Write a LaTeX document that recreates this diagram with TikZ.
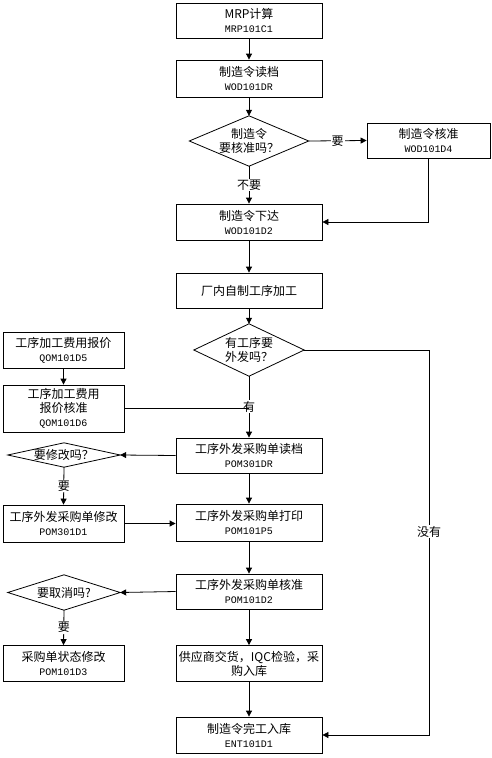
\documentclass[tikz,border=0pt]{standalone}
\usepackage{fontspec}
\setmainfont{Liberation Serif}
\newfontfamily\cjk{Noto Sans CJK SC}
\newfontfamily\codefont{Liberation Mono}
\newcommand\codetxt[1]{{\codefont\fontsize{10}{14}\selectfont #1}}
\usetikzlibrary{arrows.meta}
\begin{document}
\begin{tikzpicture}[x=1pt,y=-1pt,
  lw/.style={line width=0.8pt},
  box/.style={lw, draw, rectangle, inner sep=0pt, minimum width=146pt, minimum height=#1, align=center, font=\cjk\fontsize{12}{14}\selectfont},
  sbox/.style={box=#1, minimum width=121pt},
  dia/.style={rectangle, inner sep=0pt, align=center, font=\cjk\fontsize{12}{14}\selectfont},
  dline/.style={lw, draw},
  arr/.style={lw, -{Triangle[length=6pt,width=6pt]}},
  con/.style={lw},
  lab/.style={fill=white, inner sep=1pt, font=\cjk\fontsize{12}{14}\selectfont}
]
\fill[white] (0,0) rectangle (492,758);
\useasboundingbox (0,0) rectangle (492,758);

% main column
\node[box=35pt] (mrp) at (249,20.5) {MRP计算\\\codetxt{MRP101C1}};
\node[box=37pt] (wdr) at (249,78.5) {制造令读档\\\codetxt{WOD101DR}};
\node[dia, minimum width=119pt, minimum height=50pt] (d1) at (249,141) {制造令\\要核准吗？};
\node[box=35pt, minimum width=123pt] (d4) at (428.5,140.5) {制造令核准\\\codetxt{WOD101D4}};
\node[box=36pt] (rel) at (249,222) {制造令下达\\\codetxt{WOD101D2}};
\node[box=35pt] (inh) at (249,290.5) {厂内自制工序加工};
\node[dia, minimum width=110pt, minimum height=52pt] (d2) at (249,350) {有工序要\\外发吗？};
\node[sbox=36pt] (q5) at (63.5,350) {工序加工费用报价\\\codetxt{QOM101D5}};
\node[sbox=47pt] (q6) at (63.5,408.5) {工序加工费用\\报价核准\\\codetxt{QOM101D6}};
\node[box=35pt] (pdr) at (249,455.5) {工序外发采购单读档\\\codetxt{POM301DR}};
\node[dia, minimum width=112pt, minimum height=24pt] (dm) at (64,455) {要修改吗？};
\node[sbox=37pt] (pd1) at (63.5,523.5) {工序外发采购单修改\\\codetxt{POM301D1}};
\node[box=37pt] (pp5) at (249,522.5) {工序外发采购单打印\\\codetxt{POM101P5}};
\node[box=35pt] (pd2) at (249,591.5) {工序外发采购单核准\\\codetxt{POM101D2}};
\node[dia, minimum width=112pt, minimum height=35pt] (dc) at (64,592.5) {要取消吗?};
\node[sbox=36pt] (pd3) at (63.5,663.5) {采购单状态修改\\\codetxt{POM101D3}};
\node[box=36pt] (sup) at (249,663.5) {供应商交货，IQC检验，采\\购入库};
\node[box=36pt] (ent) at (249,735) {制造令完工入库\\\codetxt{ENT101D1}};
\coordinate (cr) at (429,350);

% diamonds
\foreach \d in {d1,d2,dm,dc}
  \draw[dline] (\d.north) -- (\d.east) -- (\d.south) -- (\d.west) -- cycle;

% connectors
\draw[arr] (mrp) -- (wdr);
\draw[arr] (wdr) -- (d1.north);
\draw[arr] (d1.east) -- node[lab]{要} (d4.west);
\draw[arr] (d1.south) -- node[lab]{不要} (rel.north);
\draw[arr] (d4.south) |- (rel.east);
\draw[arr] (rel) -- (inh);
\draw[arr] (inh) -- (d2.north);
\draw[arr] (d2.south) -- node[lab]{有} (pdr.north);
\draw[con] (q6.east) -- (q6.east -| d2.south);
\draw[arr] (q5) -- (q6);
\draw[arr] (pdr.west) -- (dm.east);
\draw[arr] (dm.south) -- node[lab]{要} (pd1.north);
\draw[arr] (pd1.east) -- (pd1.east -| pp5.west);
\draw[arr] (pdr) -- (pp5);
\draw[arr] (pp5) -- (pd2);
\draw[arr] (pd2.west) -- (dc.east);
\draw[arr] (dc.south) -- node[lab]{要} (pd3.north);
\draw[arr] (pd2) -- (sup);
\draw[arr] (sup) -- (ent);
\draw[arr] (d2.east) -- (cr) |- node[lab, pos=0.236]{没有} (ent.east);
\end{tikzpicture}
\end{document}
